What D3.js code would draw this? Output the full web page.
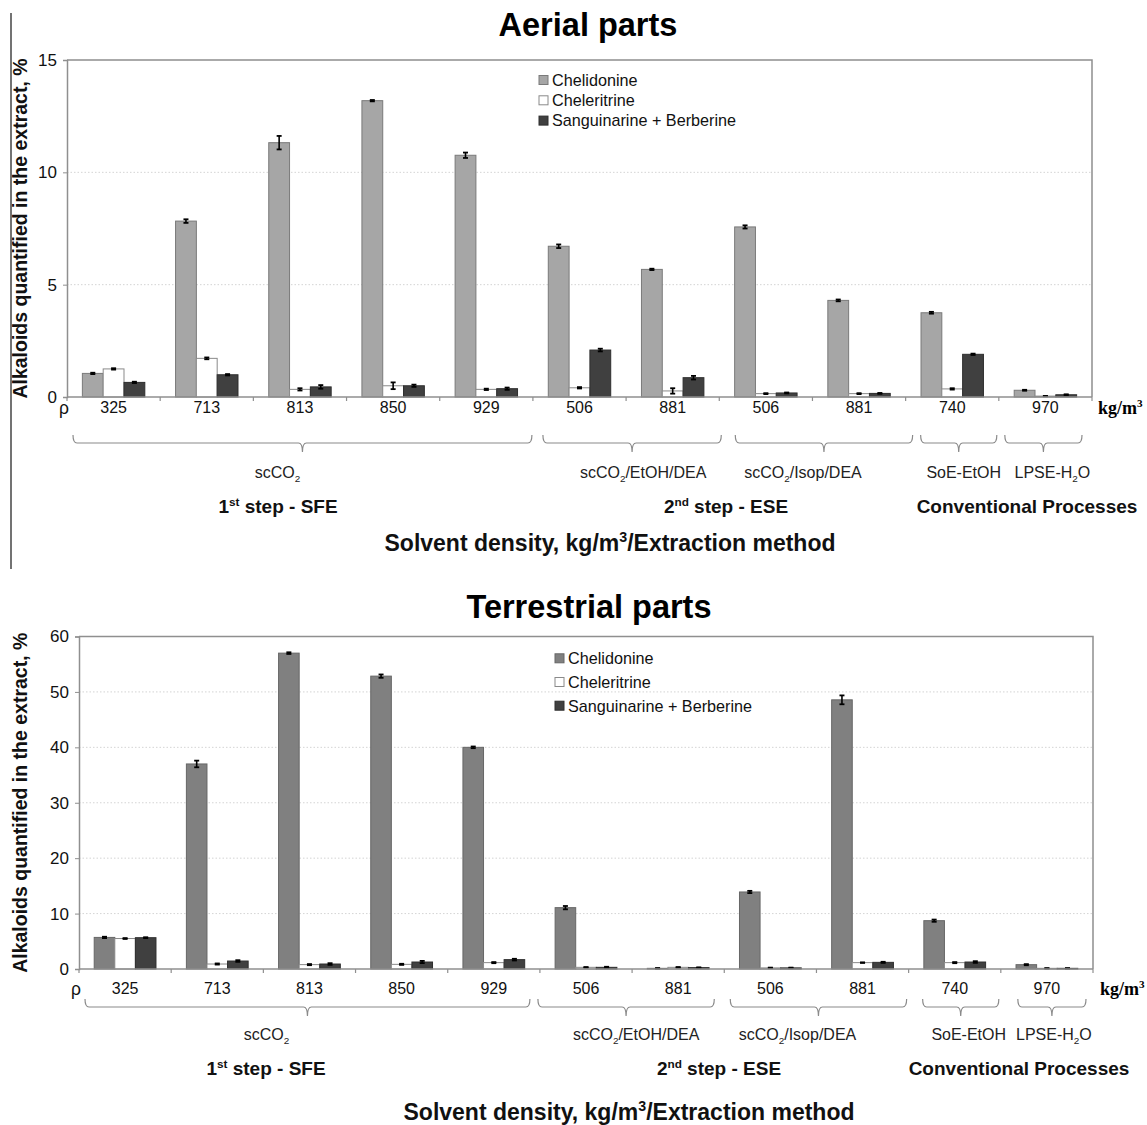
<!DOCTYPE html>
<html><head><meta charset="utf-8">
<script src="https://cdn.jsdelivr.net/npm/d3@7"></script>
<style>
body{margin:0;background:#fff}
svg{display:block}
text{font-family:"Liberation Sans",Arial,Helvetica,sans-serif}
</style>
</head><body>
<svg id="c" width="1147" height="1125"></svg>
<script>
// ---------------- DATA ----------------
const densities = ["325","713","813","850","929","506","881","506","881","740","970"];
const seriesNames = ["Chelidonine","Cheleritrine","Sanguinarine + Berberine"];

const methodLabels = ["scCO_{2}","scCO_{2}/EtOH/DEA","scCO_{2}/Isop/DEA","SoE-EtOH","LPSE-H_{2}O"];
const methodFrom = [0,5,7,9,10];
const methodTo   = [4,6,8,9,10];
const stepLabels = ["1^{st} step - SFE","2^{nd} step - ESE","Conventional Processes"];
const xAxisTitle = "Solvent density, kg/m^{3}/Extraction method";
const yAxisTitle = "Alkaloids quantified in the extract, %";

const aerialTitle = "Aerial parts";
const aerialTicks = [0,5,10,15];
const aerialChelidonine   = [1.05,7.83,11.32,13.19,10.76,6.71,5.68,7.57,4.30,3.75,0.30];
const aerialCheleritrine  = [1.25,1.72,0.34,0.50,0.34,0.41,0.27,0.15,0.15,0.36,0.04];
const aerialSanguinarine  = [0.65,0.99,0.45,0.50,0.37,2.09,0.86,0.18,0.16,1.90,0.10];
const aerialChelidonineErr  = [0.03,0.08,0.30,0.03,0.12,0.08,0.03,0.07,0.04,0.04,0.02];
const aerialCheleritrineErr = [0.03,0.04,0.05,0.15,0.03,0.03,0.12,0.02,0.02,0.03,0.01];
const aerialSanguinarineErr = [0.03,0.03,0.08,0.05,0.05,0.06,0.08,0.02,0.02,0.03,0.02];

const terrTitle = "Terrestrial parts";
const terrTicks = [0,10,20,30,40,50,60];
const terrChelidonine   = [5.70,37.0,57.0,52.85,40.0,11.07,0.12,13.9,48.57,8.72,0.78];
const terrCheleritrine  = [5.50,0.90,0.79,0.84,1.15,0.30,0.30,0.20,1.15,1.15,0.12];
const terrSanguinarine  = [5.65,1.44,0.90,1.26,1.69,0.30,0.25,0.20,1.20,1.26,0.12];
const terrChelidonineErr  = [0.12,0.60,0.15,0.30,0.15,0.30,0.05,0.20,0.80,0.20,0.10];
const terrCheleritrineErr = [0.08,0.10,0.10,0.10,0.10,0.05,0.05,0.05,0.05,0.10,0.03];
const terrSanguinarineErr = [0.08,0.15,0.15,0.20,0.15,0.10,0.05,0.05,0.10,0.15,0.03];

// ---------------- HELPERS ----------------
const svg = d3.select("#c");

function rich(t, str, fs){
  const parts = str.split(/([\^_]\{[^}]*\})/).filter(s => s.length);
  let off = 0;
  parts.forEach(p => {
    let target = 0, txt = p, small = false;
    if (p[0] === '^') { target = -0.38*fs; txt = p.slice(2,-1); small = true; }
    else if (p[0] === '_') { target = 0.25*fs; txt = p.slice(2,-1); small = true; }
    const sp = t.append("tspan").text(txt).attr("dy", (target-off) + "px");
    if (small) sp.style("font-size", (fs*0.62) + "px");
    off = target;
  });
}

function bracketPath(x0, x1, y, up, down){
  const xc = (x0 + x1)/2, r = 4;
  return `M${x0},${y-up} Q${x0},${y} ${x0+r},${y} L${xc-r},${y} Q${xc},${y} ${xc},${y+down} Q${xc},${y} ${xc+r},${y} L${x1-r},${y} Q${x1},${y} ${x1},${y-up}`;
}

function drawChart(cfg){
  const L = cfg.layout;
  const g = svg.append("g");
  const x0 = d3.scaleBand().domain(d3.range(densities.length)).range([L.left, L.right]).padding(0);
  const bw = x0.bandwidth();
  const x1 = d3.scaleBand().domain(d3.range(seriesNames.length)).range([bw*0.165, bw*0.835]).padding(0);
  const y = d3.scaleLinear().domain([0, d3.max(cfg.ticks)]).range([L.zero, L.top]);

  // title
  g.append("text").attr("x", L.titleX).attr("y", L.titleY).attr("text-anchor","middle")
    .style("font-size","32.5px").style("font-weight","bold").attr("fill","#000").text(cfg.title);

  // gridlines
  g.selectAll(".grid").data(cfg.ticks.filter(t => t > 0 && t < d3.max(cfg.ticks))).join("line")
    .attr("x1", L.left).attr("x2", L.right).attr("y1", d => y(d)).attr("y2", d => y(d))
    .attr("stroke","#d4d4d4").attr("stroke-width",1).attr("stroke-dasharray","1.5,2");

  // bars
  const vals = cfg.values, errs = cfg.errors;
  const rows = [];
  densities.forEach((d,i) => seriesNames.forEach((s,j) => rows.push({i, j, v: vals[j][i], e: errs[j][i]})));
  g.selectAll(".bar").data(rows).join("rect")
    .attr("x", d => x0(d.i) + x1(d.j)).attr("width", x1.bandwidth())
    .attr("y", d => y(d.v)).attr("height", d => y(0) - y(d.v))
    .attr("fill", d => cfg.fills[d.j]).attr("stroke", d => cfg.strokes[d.j]).attr("stroke-width",1);

  // error bars
  const eb = g.selectAll(".eb").data(rows).join("g")
    .attr("transform", d => `translate(${x0(d.i) + x1(d.j) + x1.bandwidth()/2},0)`);
  eb.append("line").attr("x1",0).attr("x2",0)
    .attr("y1", d => y(d.v + d.e)).attr("y2", d => y(Math.max(0, d.v - d.e)))
    .attr("stroke","#000").attr("stroke-width",1.6);
  eb.append("line").attr("x1",-2.5).attr("x2",2.5).attr("y1", d => y(d.v + d.e)).attr("y2", d => y(d.v + d.e))
    .attr("stroke","#000").attr("stroke-width",1.8);
  eb.append("line").attr("x1",-2.5).attr("x2",2.5).attr("y1", d => y(Math.max(0,d.v - d.e))).attr("y2", d => y(Math.max(0,d.v - d.e)))
    .attr("stroke","#000").attr("stroke-width",1.8);

  // frame (top & right)
  g.append("path").attr("d", `M${L.left},${L.top} L${L.right},${L.top} L${L.right},${L.zero}`)
    .attr("fill","none").attr("stroke","#8f8f8f").attr("stroke-width",1.5);

  // y axis
  const ya = g.append("g").attr("transform", `translate(${L.left},0)`)
    .call(d3.axisLeft(y).tickValues(cfg.ticks).tickSize(4).tickPadding(6).tickFormat(d3.format("d")));
  ya.select(".domain").attr("stroke","#8f8f8f").attr("stroke-width",1.5);
  ya.selectAll(".tick line").attr("stroke","#8f8f8f");
  ya.selectAll(".tick text").style("font-size","17px").attr("fill","#111").style("font-family",'"Liberation Sans",Arial,sans-serif');

  // x axis baseline + boundary ticks
  g.append("line").attr("x1", L.left).attr("x2", L.right).attr("y1", L.zero).attr("y2", L.zero)
    .attr("stroke","#8f8f8f").attr("stroke-width",1.5);
  g.selectAll(".xt").data(d3.range(densities.length + 1)).join("line")
    .attr("x1", i => L.left + i*bw).attr("x2", i => L.left + i*bw)
    .attr("y1", L.zero).attr("y2", L.zero + 4).attr("stroke","#8f8f8f").attr("stroke-width",1.2);

  // density labels
  g.selectAll(".xl").data(densities).join("text")
    .attr("x", (d,i) => x0(i) + bw/2).attr("y", L.tickY).attr("text-anchor","middle")
    .style("font-size","16px").attr("fill","#111").text(d => d);
  g.append("text").attr("x", L.left - 3).attr("y", L.tickY + 1).attr("text-anchor","middle")
    .style("font-size","17.5px").attr("fill","#111").text("ρ");
  g.append("text").attr("x", L.unitX).attr("y", L.tickY + 1)
    .style("font-family",'"Liberation Serif","Times New Roman",serif').style("font-size","18px")
    .style("font-weight","bold").attr("fill","#000").call(t => rich(t, "kg/m^{3}", 18));

  // brackets
  methodLabels.forEach((lab, k) => {
    const bx0 = x0(methodFrom[k]) + L.bIn[k][0];
    const bx1 = x0(methodTo[k]) + bw - L.bIn[k][1];
    g.append("path").attr("d", bracketPath(bx0, bx1, L.bracketY, 8, 9))
      .attr("fill","none").attr("stroke","#8a8a8a").attr("stroke-width",1.2);
    const t = g.append("text").attr("x", (bx0+bx1)/2 + L.labDx[k]).attr("y", L.methodY).attr("text-anchor","middle")
      .style("font-size","16px").attr("fill","#222");
    rich(t, lab, 16);
  });

  // step labels
  stepLabels.forEach((lab, k) => {
    const t = g.append("text").attr("x", L.stepX[k]).attr("y", L.stepY).attr("text-anchor","middle")
      .style("font-size","19px").style("font-weight","bold").attr("fill","#111");
    rich(t, lab, 19);
  });

  // x axis title
  const xt = g.append("text").attr("x", L.xTitleX).attr("y", L.xTitleY).attr("text-anchor","middle")
    .style("font-size","23px").style("font-weight","bold").attr("fill","#111");
  rich(xt, xAxisTitle, 23);

  // y axis title
  g.append("text").attr("transform", `translate(${L.yTitleX},${(L.top + L.zero)/2}) rotate(-90)`)
    .attr("text-anchor","middle").style("font-size","19.5px").style("font-weight","bold").attr("fill","#111")
    .text(yAxisTitle);

  // legend
  seriesNames.forEach((s, j) => {
    const cy = L.legY + j*L.legStep;
    g.append("rect").attr("x", L.legX).attr("y", cy - 4.5).attr("width", 9).attr("height", 9)
      .attr("fill", cfg.fills[j]).attr("stroke", cfg.strokes[j]).attr("stroke-width",1);
    g.append("text").attr("x", L.legX + 13).attr("y", cy + 5.8).style("font-size","16.2px").attr("fill","#111").text(s);
  });
}

// ---------------- CHARTS ----------------
drawChart({
  title: aerialTitle,
  ticks: aerialTicks,
  values: [aerialChelidonine, aerialCheleritrine, aerialSanguinarine],
  errors: [aerialChelidonineErr, aerialCheleritrineErr, aerialSanguinarineErr],
  fills: ["#a6a6a6","#ffffff","#404040"],
  strokes: ["#7a7a7a","#8a8a8a","#2e2e2e"],
  layout: {left:67, right:1092, top:60, zero:397, titleX:588, titleY:36, tickY:413,
    unitX:1098, bracketY:443, methodY:478, stepY:513, xTitleX:610, xTitleY:551, yTitleX:27,
    bIn:[[6,1],[10,-2],[16,-7],[15,2],[6,10]], labDx:[-25,11,-21,5,9],
    stepX:[278,726,1027], legX:539, legY:80, legStep:20.3}
});

drawChart({
  title: terrTitle,
  ticks: terrTicks,
  values: [terrChelidonine, terrCheleritrine, terrSanguinarine],
  errors: [terrChelidonineErr, terrCheleritrineErr, terrSanguinarineErr],
  fills: ["#808080","#ffffff","#404040"],
  strokes: ["#666666","#8a8a8a","#2e2e2e"],
  layout: {left:79, right:1093, top:636.5, zero:969, titleX:589, titleY:618, tickY:994,
    unitX:1100, bracketY:1007, methodY:1040, stepY:1075, xTitleX:629, xTitleY:1120, yTitleX:27,
    bIn:[[6,10],[-2,10],[6,2],[14,2],[17,7]], labDx:[-41,10,-21,8,2],
    stepX:[266,719,1019], legX:555, legY:658.3, legStep:23.7}
});

// left separator line beside top chart
svg.append("line").attr("x1",11).attr("x2",11).attr("y1",13).attr("y2",569)
  .attr("stroke","#444").attr("stroke-width",1.5);
</script>
</body></html>
